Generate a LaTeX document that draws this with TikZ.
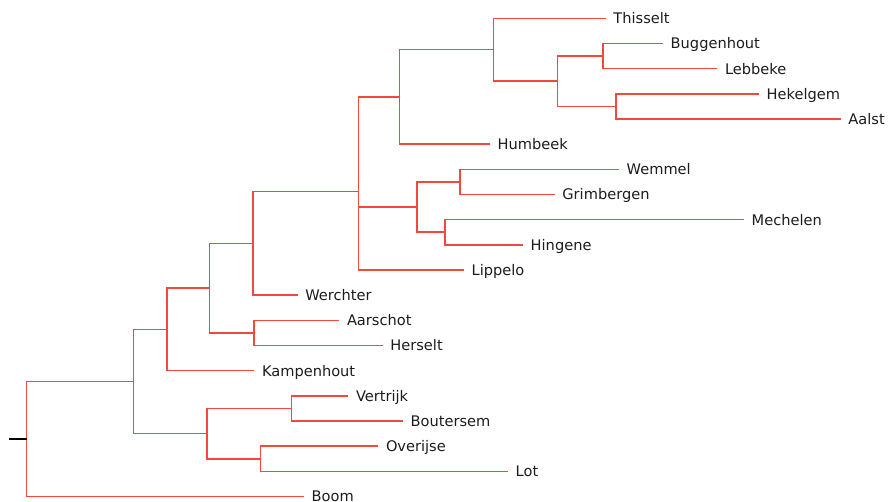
\documentclass[tikz,border=0pt]{standalone}
\usepackage{fontspec}
\setmainfont{DejaVu Sans}
\usepackage{xcolor}
\usepackage{tikz}
\usetikzlibrary{positioning, calc}
\definecolor{treered}{RGB}{242, 72, 62}
\definecolor{labelgray}{RGB}{28, 28, 28}

\begin{document}
\begin{tikzpicture}[x=1pt, y=-1pt,
    leaf/.style={anchor=west, inner xsep=7.5pt, inner ysep=0pt, text height=10.8pt, text depth=0pt, font=\fontsize{14.6}{17}\selectfont, text=labelgray},
    branch/.style={draw=treered, line width=1.5pt},
    stem/.style={draw=black, line width=1.5pt}
]
    \useasboundingbox (0,0) rectangle (888,501);

    % Leaves
    \node[leaf] (thisselt)   at (605.7, 18.3)  {Thisselt};
    \node[leaf] (buggenhout) at (663.0, 43.5)  {Buggenhout};
    \node[leaf] (lebbeke)    at (717.3, 68.6)  {Lebbeke};
    \node[leaf] (hekelgem)   at (759.0, 93.8)  {Hekelgem};
    \node[leaf] (aalst)      at (840.7, 119.0) {Aalst};
    \node[leaf] (humbeek)    at (490.0, 144.2) {Humbeek};
    \node[leaf] (wemmel)     at (619.0, 169.3) {Wemmel};
    \node[leaf] (grimbergen) at (554.7, 194.5) {Grimbergen};
    \node[leaf] (mechelen)   at (744.0, 219.7) {Mechelen};
    \node[leaf] (hingene)    at (523.0, 244.8) {Hingene};
    \node[leaf] (lippelo)    at (464.0, 270.0) {Lippelo};
    \node[leaf] (werchter)   at (297.7, 295.2) {Werchter};
    \node[leaf] (aarschot)   at (339.3, 320.3) {Aarschot};
    \node[leaf] (herselt)    at (382.7, 345.5) {Herselt};
    \node[leaf] (kampenhout) at (254.3, 370.7) {Kampenhout};
    \node[leaf] (vertrijk)   at (348.3, 395.9) {Vertrijk};
    \node[leaf] (boutersem)  at (403.0, 421.0) {Boutersem};
    \node[leaf] (overijse)   at (378.3, 446.2) {Overijse};
    \node[leaf] (lot)        at (508.0, 471.4) {Lot};
    \node[leaf] (boom)       at (304.0, 496.5) {Boom};

    % Internal nodes
    \coordinate (n_bl)  at (603.0, 56.1);
    \coordinate (n_ha)  at (616.0, 106.4);
    \coordinate (n_blha) at (557.3, 81.2);
    \coordinate (n_th)  at (493.3, 49.7);
    \coordinate (n_hu)  at (399.7, 97.0);
    \coordinate (n_wg)  at (460.0, 181.9);
    \coordinate (n_mh)  at (445.0, 232.2);
    \coordinate (n_wm)  at (417.0, 207.0);
    \coordinate (n_li)  at (358.3, 191.3);
    \coordinate (n_we)  at (253.0, 243.3);
    \coordinate (n_ah)  at (254.0, 332.9);
    \coordinate (n_wa)  at (209.7, 288.1);
    \coordinate (n_ka)  at (167.0, 329.4);
    \coordinate (n_vb)  at (291.7, 408.5);
    \coordinate (n_ol)  at (260.7, 458.8);
    \coordinate (n_vo)  at (207.0, 433.6);
    \coordinate (n_top) at (133.7, 381.5);
    \coordinate (root)  at (26.7, 439.0);
    \coordinate (stub)  at (9.0, 439.0);

    % Branches
    \draw[branch] (n_bl) |- (buggenhout.west);
    \draw[branch] (n_bl) |- (lebbeke.west);
    \draw[branch] (n_ha) |- (hekelgem.west);
    \draw[branch] (n_ha) |- (aalst.west);
    \draw[branch] (n_blha) |- (n_bl);
    \draw[branch] (n_blha) |- (n_ha);
    \draw[branch] (n_th) |- (thisselt.west);
    \draw[branch] (n_th) |- (n_blha);
    \draw[branch] (n_hu) |- (n_th);
    \draw[branch] (n_hu) |- (humbeek.west);
    \draw[branch] (n_wg) |- (wemmel.west);
    \draw[branch] (n_wg) |- (grimbergen.west);
    \draw[branch] (n_mh) |- (mechelen.west);
    \draw[branch] (n_mh) |- (hingene.west);
    \draw[branch] (n_wm) |- (n_wg);
    \draw[branch] (n_wm) |- (n_mh);
    \draw[branch] (n_li) |- (n_hu);
    \draw[branch] (n_li) |- (n_wm);
    \draw[branch] (n_li) |- (lippelo.west);
    \draw[branch] (n_we) |- (n_li);
    \draw[branch] (n_we) |- (werchter.west);
    \draw[branch] (n_ah) |- (aarschot.west);
    \draw[branch] (n_ah) |- (herselt.west);
    \draw[branch] (n_wa) |- (n_we);
    \draw[branch] (n_wa) |- (n_ah);
    \draw[branch] (n_ka) |- (n_wa);
    \draw[branch] (n_ka) |- (kampenhout.west);
    \draw[branch] (n_vb) |- (vertrijk.west);
    \draw[branch] (n_vb) |- (boutersem.west);
    \draw[branch] (n_ol) |- (overijse.west);
    \draw[branch] (n_ol) |- (lot.west);
    \draw[branch] (n_vo) |- (n_vb);
    \draw[branch] (n_vo) |- (n_ol);
    \draw[branch] (n_top) |- (n_ka);
    \draw[branch] (n_top) |- (n_vo);
    \draw[branch] (root) |- (n_top);
    \draw[branch] (root) |- (boom.west);

    % Root stub
    \draw[stem] (stub) -- (root);
\end{tikzpicture}
\end{document}
